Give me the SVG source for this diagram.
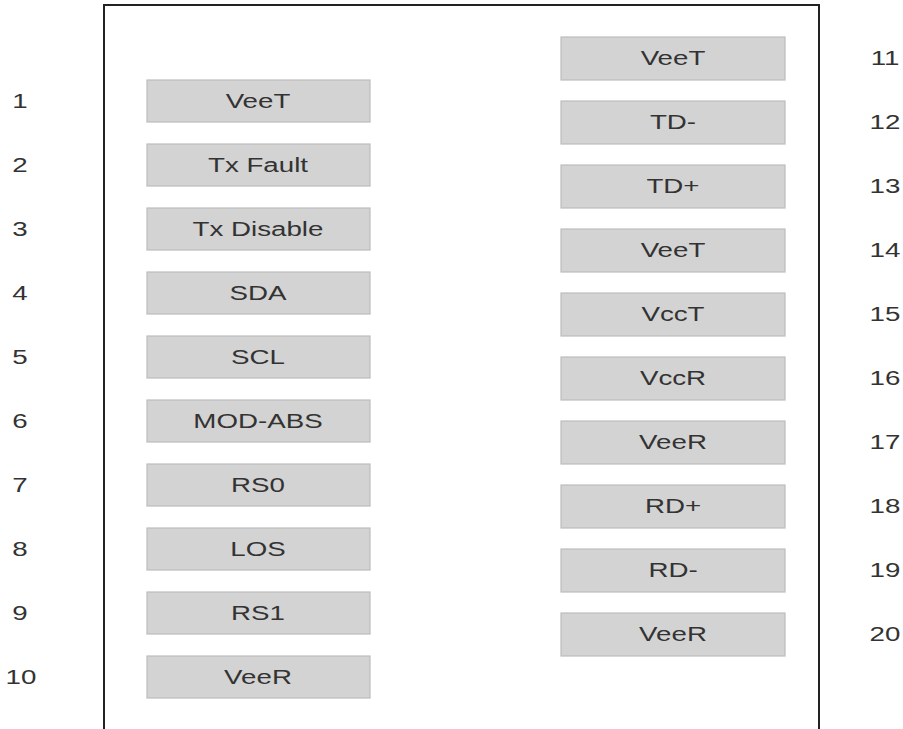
<svg xmlns="http://www.w3.org/2000/svg" width="903" height="729" viewBox="0 0 903 729">
<style>
.pin{fill:#d3d3d3;stroke:#bdbdbd;stroke-width:1.2}
.lbl{font-family:"Liberation Sans",Arial,sans-serif;font-size:21px;fill:#333;text-anchor:middle}
.num{font-family:"Liberation Sans",Arial,sans-serif;font-size:21px;fill:#333;text-anchor:middle}
.frame{fill:none;stroke:#222;stroke-width:2}
</style>
<rect width="903" height="729" fill="#fff"/>
<path class="frame" d="M104,729 V5 H819 V729"/>
<g id="left">
<g id="p1"><rect class="pin" x="147" y="80" width="223" height="42"/><text class="lbl" transform="translate(258,108) scale(1.32,1)">VeeT</text><text class="num" transform="translate(20,108) scale(1.32,1)">1</text></g>
<g id="p2"><rect class="pin" x="147" y="144" width="223" height="42"/><text class="lbl" transform="translate(258,172) scale(1.32,1)">Tx Fault</text><text class="num" transform="translate(20,172) scale(1.32,1)">2</text></g>
<g id="p3"><rect class="pin" x="147" y="208" width="223" height="42"/><text class="lbl" transform="translate(258,236) scale(1.32,1)">Tx Disable</text><text class="num" transform="translate(20,236) scale(1.32,1)">3</text></g>
<g id="p4"><rect class="pin" x="147" y="272" width="223" height="42"/><text class="lbl" transform="translate(258,300) scale(1.32,1)">SDA</text><text class="num" transform="translate(20,300) scale(1.32,1)">4</text></g>
<g id="p5"><rect class="pin" x="147" y="336" width="223" height="42"/><text class="lbl" transform="translate(258,364) scale(1.32,1)">SCL</text><text class="num" transform="translate(20,364) scale(1.32,1)">5</text></g>
<g id="p6"><rect class="pin" x="147" y="400" width="223" height="42"/><text class="lbl" transform="translate(258,428) scale(1.32,1)">MOD-ABS</text><text class="num" transform="translate(20,428) scale(1.32,1)">6</text></g>
<g id="p7"><rect class="pin" x="147" y="464" width="223" height="42"/><text class="lbl" transform="translate(258,492) scale(1.32,1)">RS0</text><text class="num" transform="translate(20,492) scale(1.32,1)">7</text></g>
<g id="p8"><rect class="pin" x="147" y="528" width="223" height="42"/><text class="lbl" transform="translate(258,556) scale(1.32,1)">LOS</text><text class="num" transform="translate(20,556) scale(1.32,1)">8</text></g>
<g id="p9"><rect class="pin" x="147" y="592" width="223" height="42"/><text class="lbl" transform="translate(258,620) scale(1.32,1)">RS1</text><text class="num" transform="translate(20,620) scale(1.32,1)">9</text></g>
<g id="p10"><rect class="pin" x="147" y="656" width="223" height="42"/><text class="lbl" transform="translate(258,684) scale(1.32,1)">VeeR</text><text class="num" transform="translate(21,684) scale(1.32,1)">10</text></g>
</g>
<g id="right">
<g id="p11"><rect class="pin" x="561" y="37" width="224" height="43"/><text class="lbl" transform="translate(673,65) scale(1.32,1)">VeeT</text><text class="num" transform="translate(885,65) scale(1.32,1)">11</text></g>
<g id="p12"><rect class="pin" x="561" y="101" width="224" height="43"/><text class="lbl" transform="translate(673,129) scale(1.32,1)">TD-</text><text class="num" transform="translate(885,129) scale(1.32,1)">12</text></g>
<g id="p13"><rect class="pin" x="561" y="165" width="224" height="43"/><text class="lbl" transform="translate(673,193) scale(1.32,1)">TD+</text><text class="num" transform="translate(885,193) scale(1.32,1)">13</text></g>
<g id="p14"><rect class="pin" x="561" y="229" width="224" height="43"/><text class="lbl" transform="translate(673,257) scale(1.32,1)">VeeT</text><text class="num" transform="translate(885,257) scale(1.32,1)">14</text></g>
<g id="p15"><rect class="pin" x="561" y="293" width="224" height="43"/><text class="lbl" transform="translate(673,321) scale(1.32,1)">VccT</text><text class="num" transform="translate(885,321) scale(1.32,1)">15</text></g>
<g id="p16"><rect class="pin" x="561" y="357" width="224" height="43"/><text class="lbl" transform="translate(673,385) scale(1.32,1)">VccR</text><text class="num" transform="translate(885,385) scale(1.32,1)">16</text></g>
<g id="p17"><rect class="pin" x="561" y="421" width="224" height="43"/><text class="lbl" transform="translate(673,449) scale(1.32,1)">VeeR</text><text class="num" transform="translate(885,449) scale(1.32,1)">17</text></g>
<g id="p18"><rect class="pin" x="561" y="485" width="224" height="43"/><text class="lbl" transform="translate(673,513) scale(1.32,1)">RD+</text><text class="num" transform="translate(885,513) scale(1.32,1)">18</text></g>
<g id="p19"><rect class="pin" x="561" y="549" width="224" height="43"/><text class="lbl" transform="translate(673,577) scale(1.32,1)">RD-</text><text class="num" transform="translate(885,577) scale(1.32,1)">19</text></g>
<g id="p20"><rect class="pin" x="561" y="613" width="224" height="43"/><text class="lbl" transform="translate(673,641) scale(1.32,1)">VeeR</text><text class="num" transform="translate(885,641) scale(1.32,1)">20</text></g>
</g>
</svg>
